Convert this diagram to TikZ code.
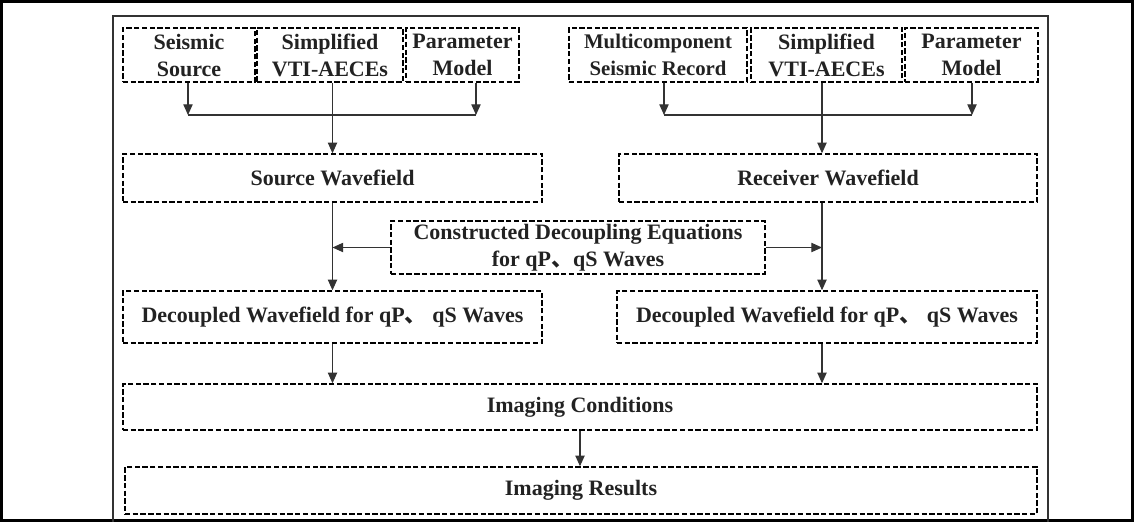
\documentclass[tikz,border=0pt]{standalone}
\usepackage{fontspec}
\setmainfont{Liberation Serif}
\newfontfamily\cjk{Noto Sans CJK SC}
\usetikzlibrary{arrows.meta,calc}
\definecolor{ink}{HTML}{222222}
\definecolor{lnc}{HTML}{333333}
\newcommand{\dun}{{\cjk 、}}
\begin{document}
\begin{tikzpicture}[x=0.75pt,y=-0.75pt,
  box/.style={draw=black, line width=1.1pt, dash pattern=on 4pt off 1.8pt, inner sep=0pt,
    align=center, text=ink, font=\fontsize{16.5}{20.25}\selectfont\bfseries},
  ln/.style={draw=lnc, line width=0.8pt},
  arr/.style={ln, -{Triangle[length=8pt,width=7pt]}}]
\useasboundingbox (0,0) rectangle (1134,522);
\draw[line width=2.25pt, black] (1.5,1.5) rectangle (1132.5,520.5);
\draw[line width=1.5pt, lnc] (113,522) -- (113,16) -- (1048,16) -- (1048,522);

\node[box, minimum width=99pt, minimum height=40.5pt] (A1) at (189,55) {Seismic\\Source};
\node[box, minimum width=109.5pt, minimum height=40.5pt] (A2) at (330,55) {Simplified\\VTI-AECEs};
\node[box, minimum width=84.75pt, minimum height=40.5pt] (A3) at (462.5,55) {Parameter\\Model};
\node[box, minimum width=133.5pt, minimum height=40.5pt, font=\fontsize{15.6}{20.25}\selectfont\bfseries] (B1) at (658,55) {Multicomponent\\Seismic Record};
\node[box, minimum width=113.25pt, minimum height=40.5pt] (B2) at (826.5,55) {Simplified\\VTI-AECEs};
\node[box, minimum width=99.75pt, minimum height=40.5pt] (B3) at (971.5,55) {Parameter\\Model};

\node[box, minimum width=314.25pt, minimum height=36pt] (SW) at (332.5,178) {Source Wavefield};
\node[box, minimum width=313.5pt, minimum height=36pt] (RW) at (828,178) {Receiver Wavefield};
\node[box, minimum width=280.5pt, minimum height=39.75pt] (CD) at (578,247.5) {Constructed Decoupling Equations\\for qP\dun qS Waves};
\node[box, minimum width=314.25pt, minimum height=39pt] (DL) at (332.5,317) {Decoupled Wavefield for qP\dun\ qS Waves};
\node[box, minimum width=315pt, minimum height=39pt] (DR) at (827,317) {Decoupled Wavefield for qP\dun\ qS Waves};
\node[box, minimum width=685.5pt, minimum height=34.5pt] (IC) at (580,407) {Imaging Conditions};
\node[box, minimum width=684pt, minimum height=35.25pt] (IR) at (581,490.5) {Imaging Results};

\coordinate (j1) at (188,115);
\coordinate (j2) at (476,115);
\coordinate (j3) at (664,115);
\coordinate (j4) at (972,115);
\coordinate (c) at (822,0);

\draw[arr] (A1.south -| j1) -- (j1);
\draw[arr] (A3.south -| j2) -- (j2);
\draw[ln] (j1) -- (j2);
\draw[arr] (A2.south -| SW.north) -- (SW.north);

\draw[arr] (B1.south -| j3) -- (j3);
\draw[arr] (B3.south -| j4) -- (j4);
\draw[ln] (j3) -- (j4);
\draw[arr] (B2.south -| c) -- (RW.north -| c);

\draw[arr] (SW.south) -- (DL.north);
\draw[arr] (RW.south -| c) -- (DR.north -| c);
\draw[arr] (CD.west) -- (CD.west -| SW.south);
\draw[arr] (CD.east) -- (CD.east -| c);

\draw[arr] (DL.south) -- (IC.north -| DL.south);
\draw[arr] (DR.south -| c) -- (IC.north -| c);
\draw[arr] (IC.south) -- (IC.south |- IR.north);
\end{tikzpicture}
\end{document}
